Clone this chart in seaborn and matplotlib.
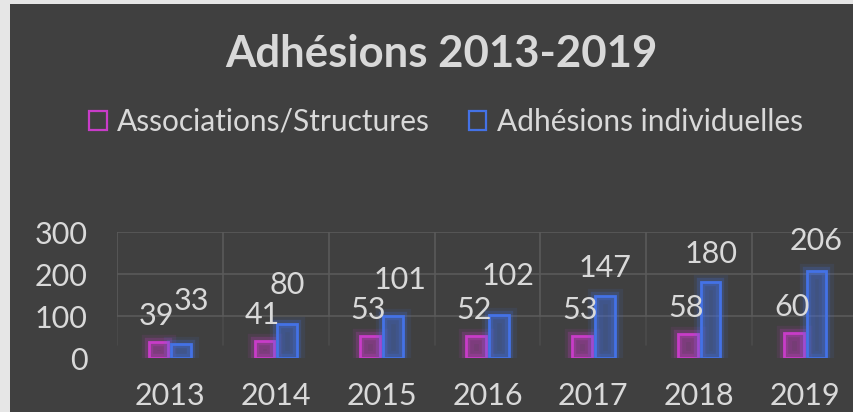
import matplotlib
matplotlib.use("Agg")

import matplotlib.pyplot as plt
import matplotlib.patheffects as pe
from matplotlib.patches import Patch, Rectangle
import pandas as pd
import seaborn as sns

# data
years = ["2013", "2014", "2015", "2016", "2017", "2018", "2019"]
associations = [39, 41, 53, 52, 53, 58, 60]
individuelles = [33, 80, 101, 102, 147, 180, 206]
series_names = ["Associations/Structures", "Adhésions individuelles"]

# label offsets in pixels (dx, dy) for the individual series, as placed in the original
indiv_dx = [10, 0, 7, 9, 0, 0, 0]
indiv_dy = [34, 30, 27, 30, 19, 19, 21]

BG = "#404040"
TXT = "#d9d9d9"
GRID = "#5a5a5a"
colors = ["#c83cc8", "#4472e6"]
PX = 0.72  # points per pixel at dpi 100
FS = 22

sns.set_theme(style="dark")
plt.rcParams["font.family"] = ["Lato", "DejaVu Sans"]

df = pd.DataFrame({
    "annee": years * 2,
    "valeur": associations + individuelles,
    "serie": [series_names[0]] * len(years) + [series_names[1]] * len(years),
})

fig = plt.figure(figsize=(8.54, 4.12), dpi=100, facecolor="#e6e6e6")
fig.patches.append(Rectangle((10 / 854, 0), 1, 1 - 4 / 412, transform=fig.transFigure,
                             facecolor=BG, edgecolor="none", zorder=-10))

ax = fig.add_axes([117 / 854, 54 / 412, 741 / 854, 126 / 412])
ax.set_facecolor("none")

sns.barplot(data=df, x="annee", y="valeur", hue="serie", palette=colors,
            width=0.43, gap=0.13, fill=False, linewidth=2, legend=False, ax=ax)

for cont, c in zip(ax.containers, colors):
    for bar in cont:
        bar.set_facecolor(matplotlib.colors.to_rgba(c, 0.15))
        bar.set_edgecolor(c)
        bar.set_path_effects([
            pe.Stroke(linewidth=11, foreground=c, alpha=0.10),
            pe.Stroke(linewidth=6, foreground=c, alpha=0.22),
            pe.Normal(),
        ])

# data labels
for bar, v in zip(ax.containers[0], associations):
    ax.annotate(str(v), (bar.get_x() + bar.get_width() / 2, bar.get_height()),
                xytext=(-2 * PX, 12 * PX), textcoords="offset points",
                ha="center", va="bottom", fontsize=FS, color=TXT)
for bar, v, dx, dy in zip(ax.containers[1], individuelles, indiv_dx, indiv_dy):
    ax.annotate(str(v), (bar.get_x() + bar.get_width() / 2, bar.get_height()),
                xytext=(dx * PX, (dy - 5) * PX), textcoords="offset points",
                ha="center", va="bottom", fontsize=FS, color=TXT)

ax.set_ylim(0, 300)
ax.set_xlim(-0.5, len(years) - 0.5)
ax.set_yticks([0, 100, 200, 300])
ax.set_xlabel("")
ax.set_ylabel("")
for s in ax.spines.values():
    s.set_visible(False)

# grid: horizontal lines plus category separators that fade out near the base
for y in [100, 200, 300]:
    ax.axhline(y, color=GRID, lw=1.2, zorder=0)
for i in range(len(years)):
    ax.axvline(i - 0.5, ymin=1 / 3, ymax=1, color=GRID, lw=1.2, zorder=0)
    ax.axvline(i - 0.5, ymin=0.1, ymax=1 / 3, color=GRID, lw=1.2, alpha=0.45, zorder=0)

ax.tick_params(axis="y", length=0, pad=21, labelsize=FS, labelcolor=TXT)
ax.tick_params(axis="x", length=0, pad=17, labelsize=FS, labelcolor=TXT)

fig.text(441 / 854, 1 - 54 / 412, "Adhésions 2013-2019", ha="center", va="center",
         fontsize=31.5, fontweight="bold", color=TXT)

handles = [Patch(facecolor="none", edgecolor=c, linewidth=1.6) for c in colors]
fig.legend(handles, series_names, loc="center", bbox_to_anchor=(446 / 854, 1 - 122 / 412),
           ncol=2, frameon=False, labelcolor=TXT, handlelength=0.58,
           handleheight=0.58, handletextpad=0.35, columnspacing=1.3,
           prop={"size": 21.5})

fig.savefig("out.png", dpi=100, facecolor=fig.get_facecolor())
